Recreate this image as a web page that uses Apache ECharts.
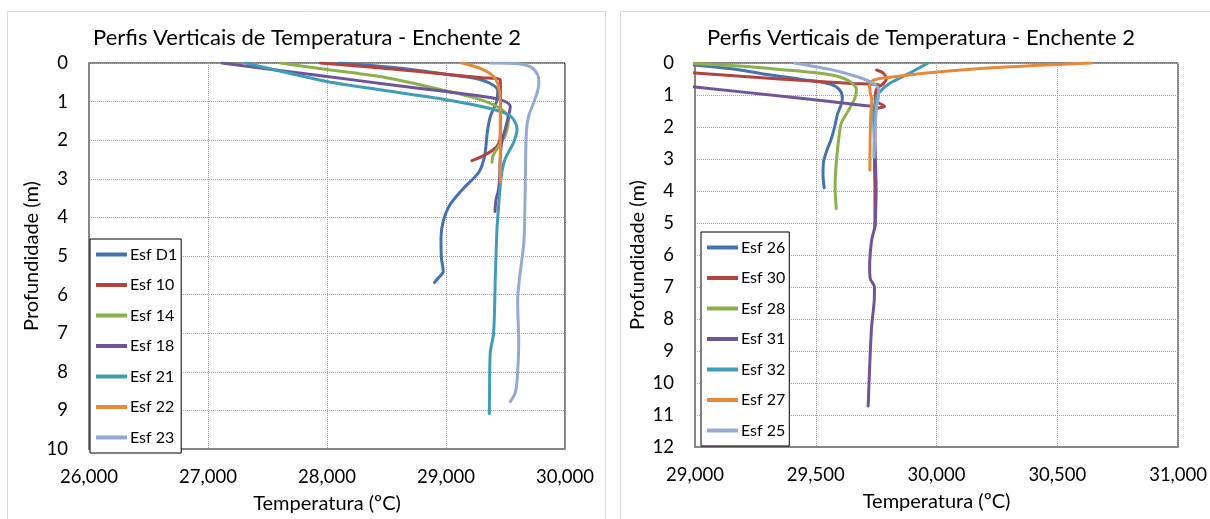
<!DOCTYPE html>
<html>
<head>
<meta charset="utf-8">
<script src="https://cdn.jsdelivr.net/npm/echarts@6/dist/echarts.min.js"></script>
<style>
html, body { margin: 0; padding: 0; background: #fff; }
#main { width: 1210px; height: 519px; }
</style>
</head>
<body>
<div id="main"></div>
<script>
// [temperatura, profundidade]
var esfD1 = [[28100,0],[28600,0.13],[29000,0.29],[29250,0.4],[29373,0.53],[29435,0.72],[29425,1.0],[29373,1.38],[29347,1.8],[29325,2.4],[29276,2.83],[29146,3.25],[29032,3.68],[28977,4.1],[28958,4.53],[28961,5.04],[28977,5.4],[28935,5.57],[28903,5.69]];
var esf10 = [[27945,0],[28500,0.14],[29000,0.29],[29300,0.38],[29456,0.44],[29458,1.2],[29456,1.9],[29440,2.1],[29400,2.24],[29316,2.4],[29218,2.53]];
var esf14 = [[27608,0],[28000,0.17],[28500,0.38],[29000,0.72],[29288,0.95],[29456,1.18],[29526,1.45],[29498,1.88],[29429,2.22],[29395,2.4],[29387,2.57]];
var esf18 = [[27117,0],[28000,0.35],[28500,0.55],[29000,0.74],[29300,0.86],[29456,0.95],[29540,1.12],[29526,1.37],[29498,1.71],[29468,2.05],[29455,2.5],[29450,3.0],[29440,3.3],[29420,3.55],[29412,3.85]];
var esf21 = [[27320,0],[28000,0.48],[28500,0.72],[29000,0.95],[29345,1.16],[29540,1.37],[29597,1.71],[29569,2.05],[29498,2.48],[29470,2.82],[29455,3.2],[29445,3.6],[29429,4.27],[29415,5.5],[29400,7.0],[29372,7.5],[29366,8.5],[29364,9.08]];
var esf22 = [[29134,0],[29288,0.14],[29400,0.35],[29442,0.61],[29456,1.0],[29456,1.5],[29456,2.5],[29456,3.08]];
var esf23 = [[29372,0],[29600,0.02],[29710,0.1],[29770,0.3],[29780,0.55],[29740,1.0],[29695,1.37],[29675,1.8],[29667,3.0],[29660,4.2],[29653,4.7],[29619,5.55],[29602,6.15],[29611,7.26],[29602,8.02],[29583,8.53],[29540,8.77]];

var esf26 = [[28900,0],[29150,0.18],[29300,0.36],[29450,0.52],[29560,0.66],[29600,0.85],[29610,1.1],[29605,1.3],[29590,1.6],[29578,2.0],[29563,2.4],[29545,2.75],[29532,3.1],[29530,3.5],[29535,3.9]];
var esf30 = [[28450,0],[29000,0.31],[29350,0.5],[29650,0.64],[29765,0.7],[29750,0.85],[29745,1.15],[29785,1.36],[29748,1.45],[29745,2.0],[29743,3.0],[29745,4.0],[29745,5.1],
             ['-','-'],[29752,0.22],[29780,0.32],[29792,0.5],[29778,0.66],[29765,0.72]];
var esf28 = [[28950,0],[29200,0.1],[29350,0.2],[29560,0.37],[29640,0.57],[29668,0.82],[29662,1.1],[29630,1.55],[29605,1.9],[29593,2.5],[29583,3.3],[29580,3.9],[29585,4.55]];
var esf31 = [[28120,0],[29000,0.75],[29400,1.07],[29700,1.33],[29738,1.38],[29743,1.8],[29745,2.5],[29748,3.3],[29750,4.0],[29748,4.6],[29745,5.1],[29731,5.55],[29723,6.39],[29726,6.75],[29743,7.0],[29742,7.43],[29731,8.26],[29723,9.52],[29717,10.72]];
var esf32 = [[29965,0],[29880,0.35],[29810,0.62],[29771,0.85],[29752,1.05],[29742,1.4],[29740,1.8],[29742,2.4],[29742,2.95]];
var esf27 = [[30640,0],[30400,0.08],[30180,0.17],[29950,0.32],[29800,0.45],[29742,0.53],[29722,0.7],[29725,0.9],[29732,1.15],[29728,1.6],[29725,2.4],[29724,3.35]];
var esf25 = [[29412,0],[29559,0.2],[29650,0.38],[29724,0.58],[29759,0.79],[29760,1.0],[29752,1.37],[29745,2.09],[29741,2.93]];

var namesLeft = ['Esf D1','Esf 10','Esf 14','Esf 18','Esf 21','Esf 22','Esf 23'];
var namesRight = ['Esf 26','Esf 30','Esf 28','Esf 31','Esf 32','Esf 27','Esf 25'];
var dataLeft = [esfD1, esf10, esf14, esf18, esf21, esf22, esf23];
var dataRight = [esf26, esf30, esf28, esf31, esf32, esf27, esf25];
var colors = ['#4573b0','#b4423e','#8cb04c','#70549a','#3f9db8','#e8883a','#94aad2'];

var titleText = 'Perfis Verticais de Temperatura - Enchente 2';
var font = 'Lato';

var chart = echarts.init(document.getElementById('main'));

function xAxisOf(idx, min, max, step) {
    return {
        type: 'value', gridIndex: idx, min: min, max: max, interval: step,
        position: 'bottom',
        name: 'Temperatura (ºC)', nameLocation: 'middle', nameGap: 45,
        nameTextStyle: { fontFamily: font, fontSize: 20, color: '#000' },
        axisLine: { onZero: false, lineStyle: { color: '#868686', width: 2 } },
        axisTick: { show: false },
        axisLabel: { margin: 19, fontFamily: font, fontSize: 18.5, color: '#000',
            formatter: function (v) { return v.toLocaleString('en-US'); } },
        splitLine: { show: true, lineStyle: { type: 'dotted', color: '#a6a6a6' } }
    };
}
function yAxisOf(idx, max) {
    return {
        type: 'value', gridIndex: idx, min: 0, max: max, interval: 1, inverse: true,
        name: 'Profundidade (m)', nameLocation: 'middle', nameGap: 47,
        nameTextStyle: { fontFamily: font, fontSize: 20, color: '#000' },
        axisLine: { onZero: false, lineStyle: { color: '#868686', width: 2 } },
        axisTick: { show: false },
        axisLabel: { margin: 21, fontFamily: font, fontSize: 18.5, color: '#000' },
        splitLine: { show: true, lineStyle: { type: 'dotted', color: '#a6a6a6' } }
    };
}
function legendOf(left, top, names) {
    return {
        orient: 'vertical', left: left, top: top, data: names,
        icon: 'rect', itemWidth: 31, itemHeight: 4, itemGap: 10.5,
        padding: [5.5, 4, 5.5, 6],
        borderColor: '#000', borderWidth: 1, backgroundColor: '#fff',
        selectedMode: false,
        textStyle: { fontFamily: font, fontSize: 16, lineHeight: 20, color: '#000', padding: [0, 0, 0, -2] }
    };
}

var series = [];
dataLeft.forEach(function (d, i) {
    series.push({ name: namesLeft[i], type: 'line', xAxisIndex: 0, yAxisIndex: 0, data: d,
        smooth: 0.3, symbol: 'none', color: colors[i],
        lineStyle: { width: 3, cap: 'round', join: 'round' } });
});
dataRight.forEach(function (d, i) {
    series.push({ name: namesRight[i], type: 'line', xAxisIndex: 1, yAxisIndex: 1, data: d,
        smooth: 0.3, symbol: 'none', color: colors[i],
        lineStyle: { width: 3, cap: 'round', join: 'round' } });
});

var option = {
    animation: false,
    grid: [
        { left: 89, top: 63, width: 476, height: 391, show: true, borderColor: '#000', borderWidth: 1 },
        { left: 695, top: 63, width: 484, height: 384, show: true, borderColor: '#000', borderWidth: 1 }
    ],
    xAxis: [xAxisOf(0, 26000, 30000, 1000), xAxisOf(1, 29000, 31000, 500)],
    yAxis: [yAxisOf(0, 10), yAxisOf(1, 12)],
    legend: [legendOf(90, 239, namesLeft), legendOf(701, 232, namesRight)],
    graphic: [
        { type: 'rect', shape: { x: 7.5, y: 11.5, width: 598, height: 520 }, style: { fill: null, stroke: '#d9d9d9', lineWidth: 1 }, silent: true },
        { type: 'rect', shape: { x: 620.5, y: 11.5, width: 600, height: 520 }, style: { fill: null, stroke: '#d9d9d9', lineWidth: 1 }, silent: true },
        { type: 'text', x: 307, y: 38, style: { text: titleText, fontFamily: font, fontSize: 22, fill: '#000', textAlign: 'center', textVerticalAlign: 'middle' } },
        { type: 'text', x: 921, y: 38, style: { text: titleText, fontFamily: font, fontSize: 22, fill: '#000', textAlign: 'center', textVerticalAlign: 'middle' } }
    ],
    series: series
};

chart.setOption(option);
window.addEventListener('resize', function () { chart.resize(); });
</script>
</body>
</html>
